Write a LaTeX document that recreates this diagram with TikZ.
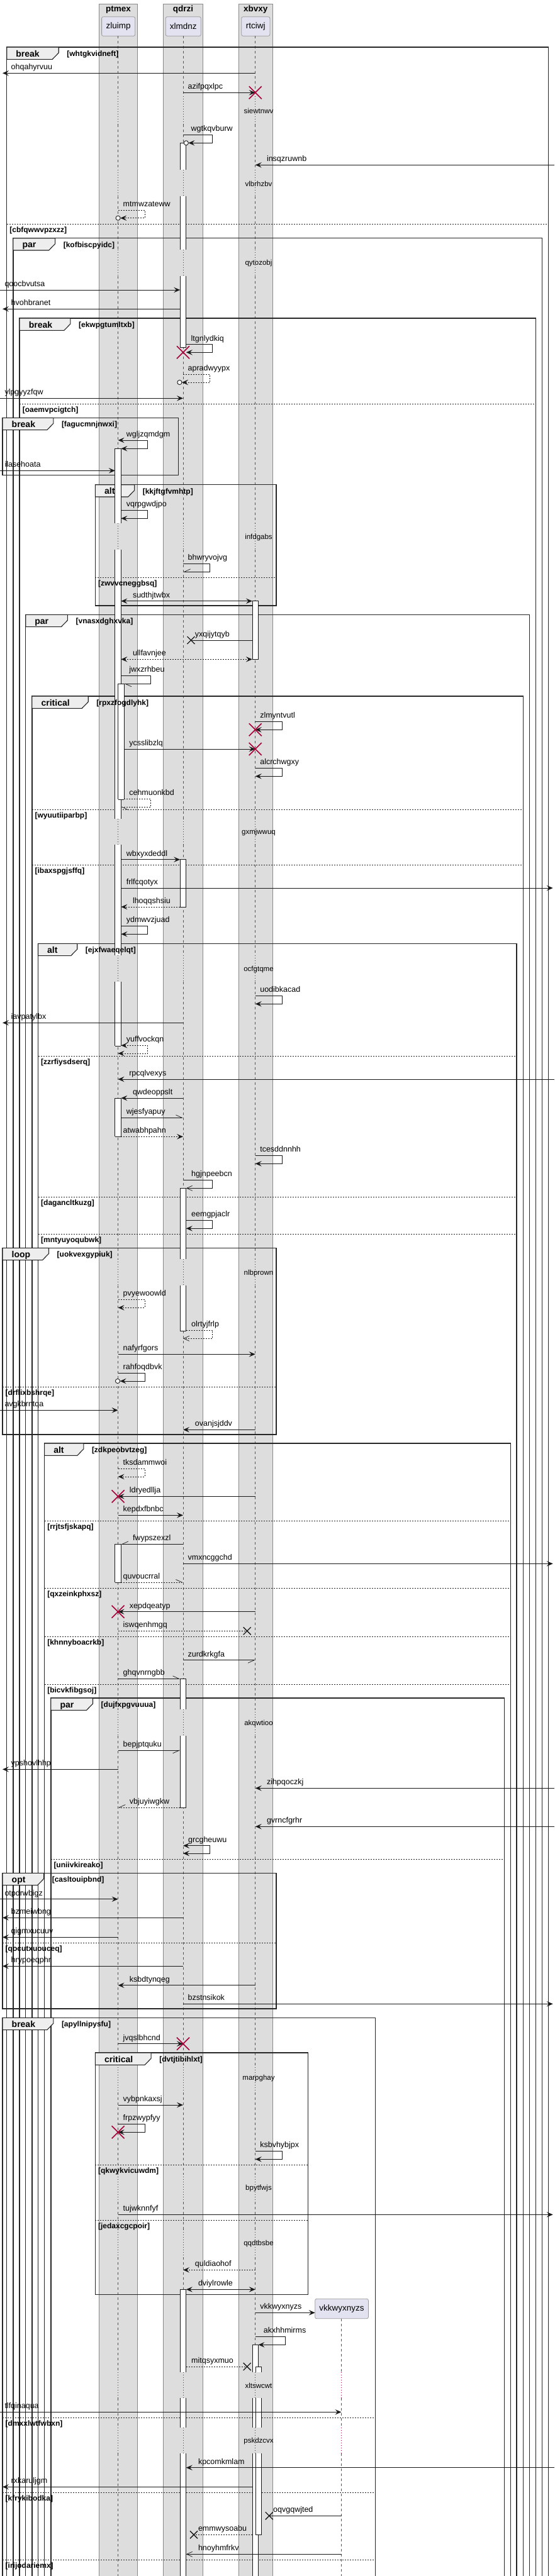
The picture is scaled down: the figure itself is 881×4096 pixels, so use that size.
\documentclass[tikz,border=0pt]{standalone}
\usepackage{fontspec}
\setmainfont{Liberation Sans}
\usetikzlibrary{arrows.meta}
\pgfdeclarelayer{front}
\pgfsetlayers{main,front}
\definecolor{grpfill}{HTML}{DDDDDD}
\definecolor{grpline}{HTML}{8A8A8A}
\definecolor{partfill}{HTML}{E2E2F0}
\definecolor{partline}{HTML}{9A9A9A}
\definecolor{tabfill}{HTML}{EEEEEE}
\definecolor{killred}{HTML}{A80036}
\definecolor{lifegray}{HTML}{555555}
\tikzset{
  grp/.style={fill=grpfill, draw=grpline, line width=0.6pt},
  grptitle/.style={font=\bfseries\fontsize{13.5}{15}\selectfont, inner sep=0pt},
  part/.style={fill=partfill, draw=partline, line width=0.8pt, rounded corners=2.5pt, inner sep=0pt, font=\fontsize{13.5}{15}\selectfont},
  life/.style={draw=lifegray, line width=0.6pt, dash pattern=on 4pt off 4pt},
  dlyline/.style={draw=killred, line width=0.8pt, dash pattern=on 1pt off 3pt},
  frm/.style={draw=black!85, line width=1.4pt},
  tabbox/.style={fill=tabfill, draw=black!85, line width=1.1pt},
  kw/.style={font=\bfseries\fontsize{14}{16}\selectfont, anchor=base west, inner sep=0pt},
  grd/.style={font=\bfseries\fontsize{12}{14}\selectfont, anchor=base west, inner sep=0pt},
  dvd/.style={draw=black!85, line width=0.9pt, dash pattern=on 2pt off 2pt},
  lbl/.style={font=\fontsize{12.5}{14}\selectfont, anchor=base west, inner sep=0pt},
  dlt/.style={font=\fontsize{11.5}{13}\selectfont, inner sep=0pt},
  mln/.style={draw=black!90, line width=0.9pt},
  dsh/.style={dash pattern=on 2pt off 2pt},
  hd/.style={-{Stealth[length=10pt,width=8.5pt,inset=4pt]}},
  hh/.style={{Stealth[length=10pt,width=8.5pt,inset=4pt]}-{Stealth[length=10pt,width=8.5pt,inset=4pt]}},
  op/.style={-{Straight Barb[length=9pt,width=8pt,line width=0.7pt]}},
  hL/.style={-{Straight Barb[left,length=10pt,width=9pt,line width=0.7pt]}},
  hR/.style={-{Straight Barb[right,length=10pt,width=9pt,line width=0.7pt]}},
  actv/.style={draw=black!90, line width=0.8pt},
  killx/.style={draw=killred, line width=1.6pt},
  lostx/.style={draw=black!90, line width=1.3pt}
}
% frame: id, left, right, top, bottom, keyword, tab width, guard
\newcommand{\seqframe}[8]{%
  \draw[frm] (#2,#4) rectangle (#3,#5);
  \draw[tabbox] (#2,#4) -- (#2+#7,#4) -- (#2+#7,#4+9) -- (#2+#7-10,#4+19.3) -- (#2,#4+19.3) -- cycle;
  \begin{pgfonlayer}{front}
  \node[kw] (#1k) at (#2+14.5,#4+15) {#6};
  \node[grd] (#1g) at (#2+#7+13,#4+14.5) {#8};
  \end{pgfonlayer}}
% else line: id, left, right, y, guard
\newcommand{\seqelse}[5]{%
  \draw[dvd] (#2,#4) -- (#3,#4);
  \begin{pgfonlayer}{front}
  \node[grd] (#1) at (#2+4.5,#4+13) {#5};
  \end{pgfonlayer}}
% message: [tip] y, from, to, label x, text
\newcommand{\seqmsg}[6][]{%
  \draw[mln,#1] (#3,#2) -- (#4,#2);
  \node[lbl] (#6) at (#5,#2-5.5) {#6};}
% self message: [tip] y1, y2, start, right, end, label x, text
\newcommand{\seqself}[8][]{%
  \draw[mln,#1] (#4,#2) -- (#5,#2) -- (#5,#3) -- (#6,#3);
  \node[lbl] (#8) at (#7,#2-5.5) {#8};}
\newcommand{\seqact}[3]{%
  \fill[white] (#1-4.8,#2) rectangle (#1+4.8,#3);
  \draw[actv] (#1-4.8,#2) -- (#1-4.8,#3) (#1+4.8,#2) -- (#1+4.8,#3);}
\newcommand{\seqcap}[2]{\draw[actv] (#1-4.8,#2) -- (#1+4.8,#2);}
\newcommand{\seqkill}[2]{\draw[killx] (#1-10,#2-10) -- (#1+10,#2+10) (#1-10,#2+10) -- (#1+10,#2-10);}
\newcommand{\seqlost}[2]{\draw[lostx] (#1-6,#2-6) -- (#1+6,#2+6) (#1-6,#2+6) -- (#1+6,#2-6);}
\newcommand{\seqring}[2]{\draw[mln,fill=white] (#1,#2) circle (3.6);}
\newcommand{\seqdelay}[2]{\node[dlt] (#2) at (411,#1) {#2};}

\begin{document}
\begin{tikzpicture}[x=1pt,y=-1pt]
\useasboundingbox (0,0) rectangle (881,4096);
\fill[white] (0,0) rectangle (881,4096);

% boxes and participants
\filldraw[grp] (157.1,6) rectangle (218.7,4110);
\filldraw[grp] (258.8,6) rectangle (322.7,4110);
\filldraw[grp] (379.7,6) rectangle (432.9,4110);
\node[grptitle] (ptmex) at (188,15.5) {ptmex};
\node[grptitle] (qdrzi) at (291,15.5) {qdrzi};
\node[grptitle] (xbvxy) at (406.3,15.5) {xbvxy};
\node[part, minimum width=53.1pt, minimum height=30.6pt] (zluimp) at (188.15,42) {zluimp};
\node[part, minimum width=56pt, minimum height=30.6pt] (xlmdnz) at (291.3,42) {xlmdnz};
\node[part, minimum width=45.2pt, minimum height=30.6pt] (rtciwj) at (406.3,42) {rtciwj};

% lifelines
\foreach \x in {187.6,291,405.7}{
  \foreach \a/\b in {57.3/153,198/270,311.7/397,438.7/832.3,874/1302,1343.3/1519,1560.7/2002.3,2044/2718.3,2760/3283,3327/3457,3501/3545,3589/3772,3812.7/3859.7,3901.3/4110}
    \draw[life] (\x,\a) -- (\x,\b);
  \foreach \a/\b in {153/198,270/311.7,397/438.7,832.3/874,1302/1343.3,1519/1560.7,2002.3/2044,2718.3/2760,3283/3327,3457/3501,3545/3589,3772/3812.7,3859.7/3901.3}
    \draw[dlyline] (\x,\a) -- (\x,\b);
}
\foreach \a/\b in {3686.7/3772,3812.7/3859.7,3901.3/4110}
  \draw[life] (542.5,\a) -- (542.5,\b);
\foreach \a/\b in {3772/3812.7,3859.7/3901.3}
  \draw[dlyline] (542.5,\a) -- (542.5,\b);
\node[part, minimum width=84.7pt, minimum height=31.4pt] (vkbox) at (543.05,3671) {vkkwyxnyzs};

% fragments
\seqframe{f1}{10.7}{871.4}{75}{4110}{break}{82.5}{[whtgkvidneft]}
\seqelse{e1}{10.7}{871.4}{356}{[cbfqwwvpzxzz]}
\seqframe{f2}{20.9}{861.2}{378.7}{4110}{par}{66.7}{[kofbiscpyidc]}
\seqframe{f3}{31.1}{851.2}{506}{4110}{break}{80.8}{[ekwpgtumltxb]}
\seqelse{e2}{31.1}{851.2}{642.3}{[oaemvpcigtch]}
\seqframe{f4}{4}{283.7}{664.3}{755.7}{break}{80.8}{[fagucmnjnwxi]}
\seqframe{f5}{151.4}{439.1}{770.7}{963}{alt}{62.2}{[kkjftgfvmhtp]}
\seqelse{e3}{151.4}{439.1}{918.3}{[zwvvcneggbsq]}
\seqframe{f6}{40.7}{841.4}{977.3}{4110}{par}{66.7}{[vnasxdghxvka]}
\seqframe{f7}{50.9}{831.3}{1107}{4110}{critical}{89.3}{[rpxzfogdlyhk]}
\seqelse{e4}{50.9}{831.3}{1287.3}{[wyuutiiparbp]}
\seqelse{e5}{50.9}{831.3}{1375.3}{[ibaxspgjsffq]}
\seqframe{f8}{60.5}{821.1}{1500.3}{4110}{alt}{62.2}{[ejxfwaeqelqt]}
\seqelse{e6}{60.5}{821.1}{1679.7}{[zzrfiysdserq]}
\seqelse{e7}{60.5}{821.1}{1903}{[dagancltkuzg]}
\seqelse{e8}{60.5}{821.1}{1962.3}{[mntyuyoqubwk]}
\seqframe{f9}{4}{439.1}{1984.3}{2281}{loop}{73.5}{[uokvexgypiuk]}
\seqelse{e9}{4}{439.1}{2205.3}{[drflixbshrqe]}
\seqframe{f10}{70.6}{811.5}{2295}{4110}{alt}{62.2}{[zdkpeobvtzeg]}
\seqelse{e10}{70.6}{811.5}{2418.3}{[rrjtsfjskapq]}
\seqelse{e11}{70.6}{811.5}{2525.3}{[qxzeinkphxsz]}
\seqelse{e12}{70.6}{811.5}{2602.3}{[khnnyboacrkb]}
\seqelse{e13}{70.6}{811.5}{2678.3}{[bicvkfibgsoj]}
\seqframe{f11}{80.8}{801.3}{2700}{4110}{par}{66.7}{[dujfxpgvuuua]}
\seqelse{e14}{80.8}{801.3}{2956}{[uniivkireako]}
\seqframe{f12}{4}{439.1}{2978.3}{3194}{opt}{65.6}{[casltouipbnd]}
\seqelse{e15}{4}{439.1}{3089.3}{[qocutxuouceq]}
\seqframe{f13}{4}{596.2}{3208.3}{4110}{break}{80.8}{[apyllnipysfu]}
\seqframe{f14}{151.4}{489.4}{3264}{3648.7}{critical}{88.7}{[dvtjtibihlxt]}
\seqelse{e16}{151.4}{489.4}{3442.3}{[qkwykvicuwdm]}
\seqelse{e17}{151.4}{489.4}{3530.3}{[jedaxcgcpoir]}
\seqelse{e18}{4}{596.2}{3844}{[dmxxlwtfwbxn]}
\seqelse{e19}{4}{596.2}{3963.3}{[kfrykibodka]}
\seqelse{e20}{4}{596.2}{4070.3}{[irijodariemx]}

% activations
\seqact{187.6}{713.3}{832.3}\seqcap{187.6}{713.3}
\seqact{187.6}{874}{1302}
\seqact{187.6}{1343.3}{1519}
\seqact{187.6}{1560.7}{1663}\seqcap{187.6}{1663}
\seqact{192.6}{1087.3}{1271}\seqcap{192.6}{1087.3}\seqcap{192.6}{1271}
\seqact{187.6}{1746}{1807.3}\seqcap{187.6}{1746}\seqcap{187.6}{1807.3}
\seqact{187.6}{2455.3}{2516}\seqcap{187.6}{2455.3}\seqcap{187.6}{2516}
\seqact{291}{227.3}{270}\seqcap{291}{227.3}
\seqact{291}{311.7}{397}
\seqact{291}{438.7}{552.7}\seqcap{291}{552.7}
\seqact{291}{1366.7}{1442}\seqcap{291}{1366.7}\seqcap{291}{1442}
\seqact{291}{1889.3}{2002.3}\seqcap{291}{1889.3}
\seqact{291}{2044}{2116}\seqcap{291}{2116}
\seqact{291}{2669.3}{2718.3}\seqcap{291}{2669.3}
\seqact{291}{2760}{2874}\seqcap{291}{2874}
\seqact{291}{3640.3}{3772}\seqcap{291}{3640.3}
\seqact{291}{3812.7}{3859.7}
\seqact{291}{3901.3}{4110}
\seqact{405.7}{955.7}{1048.3}\seqcap{405.7}{955.7}\seqcap{405.7}{1048.3}
\seqact{405.7}{3728.3}{3772}\seqcap{405.7}{3728.3}
\seqact{405.7}{3812.7}{3859.7}
\seqact{405.7}{3901.3}{4110}
\seqact{410.7}{3763}{3772}\seqcap{410.7}{3763}
\seqact{410.7}{3812.7}{3859.7}
\seqact{410.7}{3901.3}{4030.3}\seqcap{410.7}{4030.3}

% delays
\seqdelay{176}{siewtnwv}
\seqdelay{292.3}{vlbrhzbv}
\seqdelay{418.7}{qytozobj}
\seqdelay{854.3}{infdgabs}
\seqdelay{1323.3}{gxmjwwuq}
\seqdelay{1541.3}{ocfgtqme}
\seqdelay{2024}{nlbprown}
\seqdelay{2740.7}{akqwtioo}
\seqdelay{3304.7}{marpghay}
\seqdelay{3479.3}{bpytfwjs}
\seqdelay{3567.3}{qqdtbsbe}
\seqdelay{3793.7}{xltswcwt}
\seqdelay{3881.3}{pskdzcvx}

% messages
\seqmsg[hd]{116.3}{405.7}{4}{17.5}{ohqahyrvuu}
\seqmsg[hd]{147.3}{291}{405.7}{298.4}{azifpqxlpc}\seqkill{405.7}{147.3}
\seqself[hd]{214.3}{227.3}{291}{337.9}{299.4}{303.5}{wgtkqvburw}\seqring{295.8}{227.3}
\seqmsg[hd]{262.3}{881}{405.7}{423.8}{insqzruwnb}
\seqself[hd,dsh]{334}{346.7}{187.6}{230}{191.2}{195.5}{mtmwzateww}\seqring{187.6}{346.7}
\seqmsg[hd]{461}{0}{286.2}{7.3}{qoocbvutsa}
\seqmsg[hd]{491.3}{286.2}{4}{17.5}{hvohbranet}
\seqself[hd]{547.7}{560.3}{295.8}{337.9}{295.8}{303.5}{ltgnlydkiq}\seqkill{291}{560.3}
\seqself[hd,dsh]{595.3}{608}{291}{333.4}{289}{298.4}{apradwyypx}\seqring{285.4}{608}
\seqmsg[hd]{633.3}{0}{291}{7.3}{ylpgyyzfqw}
\seqself[hh]{700}{713.3}{187.6}{234.5}{192.4}{200.6}{wgljzqmdgm}
\seqmsg[hd]{748.3}{0}{182.8}{7.3}{ilasehoata}
\seqself[hd]{811.3}{824.3}{192.4}{234.5}{192.4}{200.6}{vqrpgwdjpo}
\seqself[hR]{896.3}{909.3}{291}{333.4}{291}{298.4}{bhwryvojvg}
\seqmsg[hh]{955.7}{192.4}{400.9}{210.8}{sudthjtwbx}
\seqmsg{1018}{400.9}{303.5}{309.7}{yxqijytqyb}\seqlost{303.5}{1018}
\seqmsg[hh,dsh]{1048.3}{192.4}{400.9}{210.8}{ullfavnjee}
\seqself[hL]{1074.3}{1087.3}{192.4}{239.6}{197.4}{205.1}{jwxzrhbeu}
\seqself[hd]{1147.3}{1160.3}{405.7}{448.1}{405.7}{413.1}{zlmyntvutl}\seqkill{405.7}{1160.3}
\seqmsg[hd]{1191}{197.4}{405.7}{205.1}{ycsslibzlq}\seqkill{405.7}{1191}
\seqself[hd]{1221.3}{1234.3}{405.7}{448.1}{405.7}{413.1}{alcrchwgxy}
\seqself[hL,dsh]{1270.3}{1283.3}{197.4}{239.6}{192.4}{205.1}{cehmuonkbd}
\seqmsg[hd]{1366.7}{192.4}{286.2}{200.6}{wbxyxdeddl}
\seqmsg[hd]{1412}{192.4}{878.7}{200.6}{frlfcqotyx}
\seqmsg[hd,dsh]{1442}{286.2}{192.4}{210.8}{lhoqqshsiu}
\seqself[hd]{1472.3}{1485.3}{192.4}{234.5}{192.4}{200.6}{ydmwvzjuad}
\seqself[hd]{1583.3}{1596.3}{405.7}{448.1}{405.7}{413.1}{uodibkacad}
\seqmsg[hd]{1626.3}{291}{4}{17.5}{iavpatylbx}
\seqself[hh,dsh]{1662.3}{1675}{192.4}{234.5}{187.6}{200.6}{yuffvockqn}
\seqmsg[hd]{1716}{881}{187.6}{205.1}{rpcqlvexys}
\seqmsg[hd]{1746}{291}{192.4}{210.8}{qwdeoppslt}
\seqmsg[hL]{1777.3}{192.4}{291}{200.6}{wjesfyapuy}
\seqmsg[hd,dsh]{1807.3}{192.4}{291}{195.5}{atwabhpahn}
\seqself[hd]{1837.3}{1850.3}{405.7}{448.1}{405.7}{413.1}{tcesddnnhh}
\seqself[op]{1876.3}{1889.3}{291}{337.9}{295.8}{304}{hgjnpeebcn}
\seqself[hd]{1940.3}{1953.3}{295.8}{337.9}{295.8}{304}{eemgpjaclr}
\seqself[hd,dsh]{2066.3}{2079.3}{187.6}{230}{187.6}{195.5}{pvyewoowld}
\seqself[op,dsh]{2115.3}{2128.3}{295.8}{337.9}{291}{304}{olrtyjfrlp}
\seqmsg[hd]{2153.3}{187.6}{405.7}{195.5}{nafyrfgors}
\seqself[hd]{2183.3}{2196}{187.6}{230}{190.6}{195.5}{rahfoqdbvk}\seqring{187}{2196}
\seqmsg[hd]{2242.3}{0}{187.6}{7.3}{avgkbrntqa}
\seqmsg[hd]{2273.3}{405.7}{291}{309.7}{ovanjsjddv}
\seqself[hd,dsh]{2335.3}{2348}{187.6}{230}{187.6}{195.5}{tksdammwoi}
\seqmsg[hd]{2379.3}{405.7}{187.6}{205.7}{ldryedllja}\seqkill{187.6}{2379.3}
\seqmsg[hd]{2409.3}{187.6}{291}{195.5}{kepdxfbnbc}
\seqmsg[hR]{2455.3}{291}{192.4}{210.8}{fwypszexzl}
\seqmsg[hd]{2486.3}{291}{878.7}{298.4}{vmxncggchd}
\seqmsg[hL,dsh]{2516}{192.4}{291}{195.5}{quvoucrral}
\seqmsg[hd]{2562.7}{405.7}{187.6}{205.7}{xepdqeatyp}\seqkill{187.6}{2562.7}
\seqmsg[dsh]{2593.3}{187.6}{392.7}{195.5}{iswqenhmgq}\seqlost{392.7}{2593.3}
\seqmsg[hR]{2639.7}{291}{405.7}{298.4}{zurdkrkgfa}
\seqmsg[hL]{2669.3}{187.6}{286.2}{195.5}{ghqvnrngbb}
\seqmsg[hR]{2783.3}{187.6}{286.2}{195.5}{bepjptquku}
\seqmsg[hd]{2813.3}{187.6}{4}{17.5}{ypshovlhhp}
\seqmsg[hd]{2843.3}{881}{405.7}{423.8}{zihpqoczkj}
\seqmsg[hR,dsh]{2874}{286.2}{187.6}{205.7}{vbjuyiwgkw}
\seqmsg[hd]{2904.3}{881}{405.7}{423.8}{gvrncfgrhr}
\seqself[hh]{2934.7}{2947}{291}{333.4}{291}{299}{grcgheuwu}
\seqmsg[hd]{3019.7}{0}{187.6}{7.3}{otpdrwbigz}
\seqmsg[hd]{3049.3}{291}{4}{17.5}{bzmeiwbng}
\seqmsg[hd]{3080.3}{187.6}{4}{17.5}{qigmxucuuv}
\seqmsg[hd]{3126.3}{291}{4}{17.5}{hrypoeqphr}
\seqmsg[hd]{3156.7}{405.7}{187.6}{205.7}{ksbdtynqeg}
\seqmsg[hd]{3186.3}{291}{878.7}{298.4}{bzstnsikok}
\seqmsg[hd]{3249.7}{187.6}{291}{195.5}{jvqslbhcnd}\seqkill{291}{3249.7}
\seqmsg[hd]{3347}{187.6}{291}{195.5}{vybpnkaxsj}
\seqself[hd]{3377.3}{3390.3}{187.6}{230}{187.6}{195.5}{frpzwypfyy}\seqkill{187.6}{3390.3}
\seqself[hd]{3420.3}{3433.3}{405.7}{448.1}{405.7}{413.1}{ksbvhybjpx}
\seqmsg[hd]{3521.3}{187.6}{878.7}{195.5}{tujwknnfyf}
\seqmsg[hd,dsh]{3609.3}{405.7}{291}{309.7}{quldiaohof}
\seqmsg[hh]{3640.3}{295.8}{405.7}{314.8}{dviylrowle}
\seqmsg[hd]{3677.3}{405.7}{500.7}{413.1}{vkkwyxnyzs}
\seqself[hd]{3715.3}{3728.3}{405.7}{453.2}{410.5}{418.7}{akxhhmirms}
\seqmsg[dsh]{3763}{295.8}{392.7}{304}{mitqsyxmuo}\seqlost{392.7}{3763}
\seqmsg[hd]{3835.3}{0}{542.5}{7.3}{tlfqinaqua}
\seqmsg[hd]{3923.7}{881}{295.8}{314.8}{kpcomkmlam}
\seqmsg[hd]{3954.3}{400.9}{4}{17.5}{rxkaruljgm}
\seqmsg{4000.3}{542.5}{427.8}{434}{oqvgqwjted}\seqlost{427.8}{4000.3}
\seqmsg[dsh]{4030.3}{400.9}{308}{314.8}{emmwysoabu}\seqlost{308}{4030.3}
\seqmsg[op]{4061.3}{542.5}{295.8}{314.8}{hnoyhmfrkv}
\end{tikzpicture}
\end{document}
